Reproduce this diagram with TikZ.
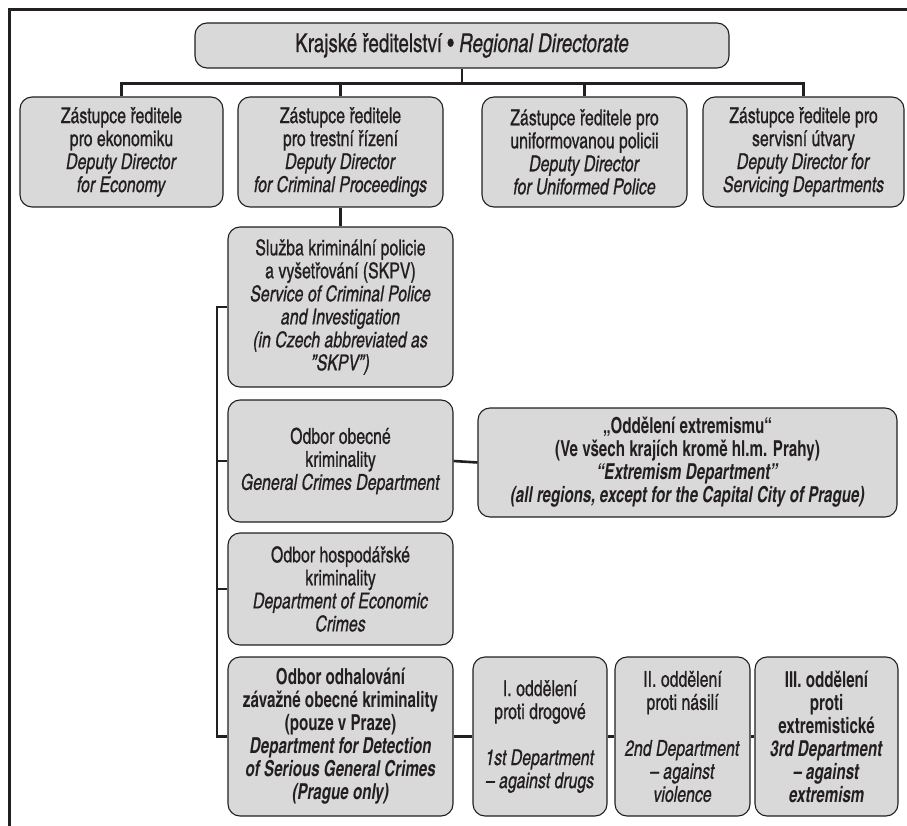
\documentclass[tikz,border=0pt]{standalone}
\usepackage{fontspec}
\setmainfont{texgyreheroscn}[Extension=.otf, UprightFont=*-regular, BoldFont=*-bold, ItalicFont=*-italic, BoldItalicFont=*-bolditalic,
  UprightFeatures={FakeStretch=0.88, FakeBold=0.6}, ItalicFeatures={FakeStretch=0.88, FakeBold=0.6},
  BoldFeatures={FakeStretch=0.84}, BoldItalicFeatures={FakeStretch=0.84}]
\definecolor{boxfill}{RGB}{217,217,217}
\definecolor{ink}{RGB}{35,31,32}
\begin{document}
\begin{tikzpicture}[x=1pt,y=-1pt,
  orgbox/.style={draw=ink, line width=1.1pt, fill=boxfill, rounded corners=12pt, align=center, inner sep=0pt, text=ink, font=\fontsize{22}{23}\selectfont},
  boldbox/.style={orgbox, font=\fontsize{22}{23}\selectfont\bfseries},
  conn/.style={draw=ink, line width=2.6pt},
  frameline/.style={draw=ink, line width=3pt}]
\useasboundingbox (0,0) rectangle (907,826);
\coordinate (fr1) at (907,10);
\coordinate (fr2) at (9,10);
\coordinate (fr3) at (9,826);
\draw[frameline] (fr1) -- (fr2) -- (fr3);

\node[orgbox, font=\fontsize{26}{27}\selectfont, minimum width=534pt, minimum height=45pt] (top) at (462,45.5) {Krajské ředitelství • \textit{Regional Directorate}};

\node[orgbox, minimum width=203pt, minimum height=110pt] (d1) at (121.5,152) {Zástupce ředitele\\pro ekonomiku\\\textit{Deputy Director}\\\textit{for Economy}};
\node[orgbox, minimum width=205pt, minimum height=110pt] (d2) at (340.5,152) {Zástupce ředitele\\pro trestní řízení\\\textit{Deputy Director}\\\textit{for Criminal Proceedings}};
\node[orgbox, minimum width=205pt, minimum height=110pt] (d3) at (584.5,152) {Zástupce ředitele pro\\uniformovanou policii\\\textit{Deputy Director}\\\textit{for Uniformed Police}};
\node[orgbox, minimum width=201pt, minimum height=110pt] (d4) at (803.5,152) {Zástupce ředitele pro\\servisní útvary\\\textit{Deputy Director for}\\\textit{Servicing Departments}};

\node[orgbox, minimum width=225pt, minimum height=160pt] (skpv) at (340.5,307) {Služba kriminální policie\\a vyšetřování (SKPV)\\\textit{Service of Criminal Police}\\\textit{and Investigation}\\\textit{(in Czech abbreviated as}\\\textit{"SKPV")}};

\node[orgbox, minimum width=225pt, minimum height=122pt] (gen) at (340.5,461) {Odbor obecné\\kriminality\\\textit{General Crimes Department}};
\node[boldbox, minimum width=419pt, minimum height=109pt] (ext) at (687.5,462.5) {„Oddělení extremismu“\\(Ve všech krajích kromě hl.m. Prahy)\\\textit{“Extremism Department”}\\\textit{(all regions, except for the Capital City of Prague)}};

\node[orgbox, minimum width=225pt, minimum height=112pt] (eco) at (340.5,589) {Odbor hospodářské\\kriminality\\\textit{Department of Economic}\\\textit{Crimes}};

\node[boldbox, minimum width=225pt, minimum height=159pt] (odh) at (340.5,736.5) {Odbor odhalování\\závažné obecné kriminality\\(pouze v Praze)\\\textit{Department for Detection}\\\textit{of Serious General Crimes}\\\textit{(Prague only)}};
\node[orgbox, minimum width=134pt, minimum height=159pt] (o1) at (540,736.5) {I. oddělení\\proti drogové\\[23pt]\textit{1st Department}\\\textit{– against drugs}};
\node[orgbox, minimum width=135pt, minimum height=159pt] (o2) at (682.5,736.5) {II. oddělení\\proti násilí\\[23pt]\textit{2nd Department}\\\textit{– against}\\\textit{violence}};
\node[boldbox, minimum width=143pt, minimum height=159pt] (o3) at (826.5,736.5) {III. oddělení\\proti\\extremistické\\\textit{3rd Department}\\\textit{– against}\\\textit{extremism}};

% connectors
\draw[conn] (top.south) -- ++(0,15) coordinate (bus);
\draw[conn] (d1.north) |- (bus) -| (d4.north);
\draw[conn] (d2.north) -- (d2.north |- bus);
\draw[conn] (d3.north) -- (d3.north |- bus);
\draw[conn] (d2.south) -- (skpv.north);
\coordinate (lb) at (217,0);
\draw[conn] (skpv.west) -- (skpv.west -| lb) -- (odh.west -| lb) -- (odh.west);
\draw[conn] (gen.west) -- (gen.west -| lb);
\draw[conn] (eco.west) -- (eco.west -| lb);
\draw[conn] (gen.east) -- (ext.west);
\draw[conn] (odh.east) -- (o1.west);
\draw[conn] (o1.east) -- (o2.west);
\draw[conn] (o2.east) -- (o3.west);
\end{tikzpicture}
\end{document}
